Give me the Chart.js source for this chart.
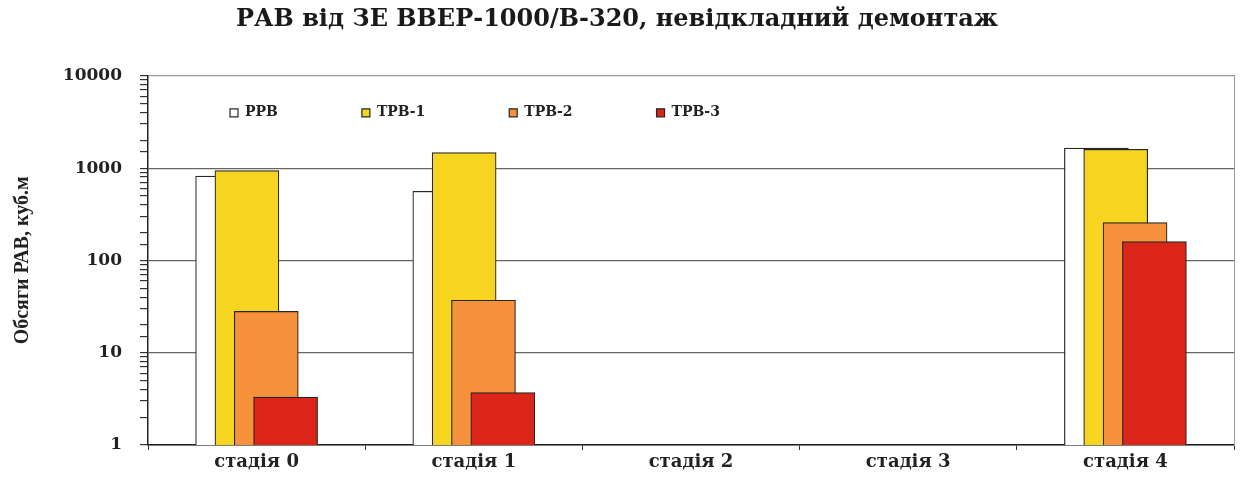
<!DOCTYPE html>
<html lang="uk">
<head>
<meta charset="utf-8">
<title>РАВ від ЗЕ ВВЕР-1000/В-320</title>
<script src="https://cdn.jsdelivr.net/npm/chart.js@4/dist/chart.umd.min.js"></script>
<style>
  html, body { margin: 0; padding: 0; background: #ffffff; }
  #wrap { position: relative; width: 1243px; height: 481px; }
</style>
</head>
<body>
<div id="wrap"><canvas id="chart"></canvas></div>
<script>
// Stages of decommissioning
const categories = ['стадія 0', 'стадія 1', 'стадія 2', 'стадія 3', 'стадія 4'];

// Waste volumes, m³ (log scale); empty stages carry no bars
const seriesNames = ['РРВ', 'ТРВ-1', 'ТРВ-2', 'ТРВ-3'];
const rrv  = [820, 560, null, null, 1650];
const trv1 = [940, 1470, null, null, 1600];
const trv2 = [28, 37, null, null, 257];
const trv3 = [3.3, 3.7, null, null, 160];

// Labelled ticks of the value axis
const yLabelTicks = [1, 10, 100, 1000, 10000];

const seriesValues = [rrv, trv1, trv2, trv3];
const seriesFill = ['#ffffff', '#f6d520', '#f6913c', '#dc2519'];

// overlapping bars: each series is shifted inside its stage slot
const groupStep = 0.089;
const datasets = seriesNames.map((name, k) => ({
  label: name,
  data: seriesValues[k].map((v, i) => ({ x: i + (k - 1.5) * groupStep, y: v })),
  xAxisID: 'xb',
  yAxisID: 'y',
  backgroundColor: seriesFill[k],
  borderColor: '#262626',
  borderWidth: 1.2,
  barThickness: 64,
  grouped: false,
  order: seriesNames.length - k
}));

const isPow10 = v => Math.abs(Math.log10(v) - Math.round(Math.log10(v))) < 1e-9;

// keep the legend inside the plot, near its upper edge
const legendInPlot = {
  id: 'legendInPlot',
  afterLayout(chart) {
    const lg = chart.legend;
    const area = chart.chartArea;
    const pad = lg.options.labels.padding;
    lg.left = area.left + 82 - pad;
    lg.top = area.top + 30 - pad;
    lg.right = area.right;
    lg.bottom = area.top + 60;
    lg.width = lg.right - lg.left;
    lg.height = lg.bottom - lg.top;
  }
};

const serif = 'DejaVu Serif';

new Chart(document.getElementById('chart'), {
  type: 'bar',
  data: { labels: categories, datasets },
  plugins: [legendInPlot],
  options: {
    responsive: true,
    maintainAspectRatio: false,
    animation: false,
    layout: { padding: { top: 0, left: 0, right: 9, bottom: 0 } },
    plugins: {
      title: {
        display: true,
        text: 'РАВ від ЗЕ ВВЕР-1000/В-320, невідкладний демонтаж',
        color: '#1a1a1a',
        font: { family: serif, weight: 'bold', size: 24, lineHeight: 1.2 },
        padding: { top: 5, bottom: 41 }
      },
      legend: {
        display: true,
        position: 'top',
        align: 'start',
        maxHeight: 1,
        labels: {
          boxWidth: 8,
          boxHeight: 8,
          padding: 84,
          color: '#222222',
          font: { family: serif, weight: 'bold', size: 14 },
          sort: (a, b) => a.datasetIndex - b.datasetIndex
        }
      },
      tooltip: { enabled: false }
    },
    scales: {
      x: {
        type: 'category',
        offset: true,
        position: 'bottom',
        afterFit: s => { s.height = 36; },
        grid: {
          offset: true,
          drawOnChartArea: false,
          drawTicks: true,
          tickLength: 5,
          tickColor: '#333333',
          color: '#333333'
        },
        border: { display: true, color: '#222222', width: 1.5 },
        ticks: {
          color: '#222222',
          padding: 2,
          font: { family: serif, weight: 'bold', size: 18 }
        }
      },
      xb: {
        type: 'linear',
        display: false,
        offset: false,
        min: -0.5,
        max: 4.5,
        grid: { offset: false }
      },
      y: {
        type: 'logarithmic',
        position: 'left',
        min: 1,
        max: 10000,
        afterFit: s => { s.width = 148; },
        border: { display: true, color: '#222222', width: 1.5 },
        grid: {
          drawTicks: true,
          tickLength: 8,
          lineWidth: 1.2,
          tickColor: '#333333',
          color: ctx => {
            const v = ctx.tick && ctx.tick.value;
            if (!v || !isPow10(v)) return 'rgba(0,0,0,0)';
            return v >= 10000 ? '#9a9a9a' : '#666666';
          }
        },
        ticks: {
          autoSkip: false,
          padding: 18,
          color: '#222222',
          font: { family: serif, weight: 'bold', size: 17 },
          callback: v => (yLabelTicks.includes(v) ? String(v) : '')
        },
        title: {
          display: true,
          text: 'Обсяги РАВ, куб.м',
          color: '#222222',
          font: { family: 'Liberation Serif', weight: 'bold', size: 20, lineHeight: 1.2 },
          padding: { top: 11, bottom: 0 }
        }
      },
      yR: {
        type: 'linear',
        position: 'right',
        display: true,
        afterFit: s => { s.width = 0; },
        grid: { display: false, drawTicks: false },
        ticks: { display: false },
        border: { display: true, color: '#9a9a9a', width: 1 }
      }
    }
  }
});
</script>
</body>
</html>
